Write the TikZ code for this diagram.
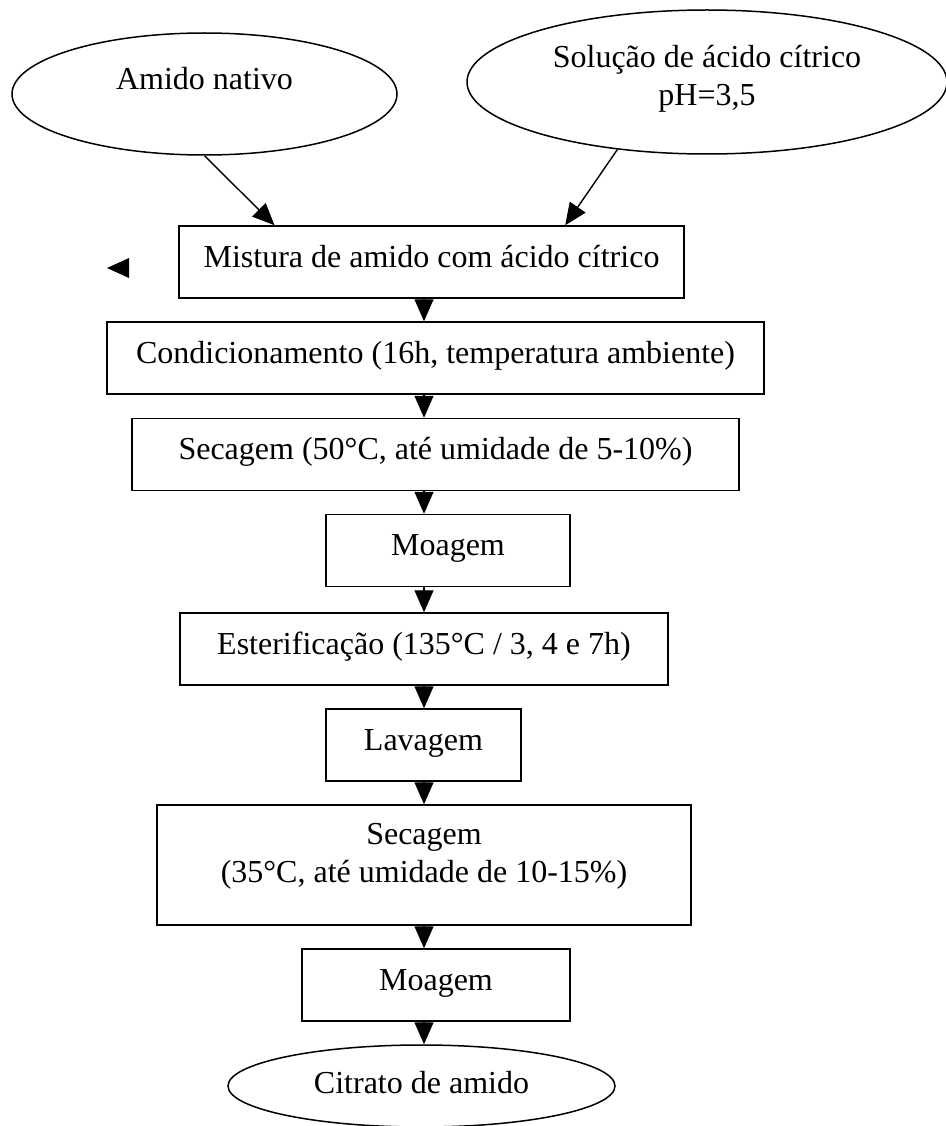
\documentclass[tikz,border=0pt]{standalone}
\usepackage{fontspec}
\setmainfont{Liberation Serif}
\usetikzlibrary{arrows.meta,shapes,calc}

\begin{document}
\begin{tikzpicture}[x=1pt,y=-1pt,>={Triangle[length=22pt,width=19pt]},
    every node/.style={font=\fontsize{32}{38}\selectfont}]

  \tikzstyle{source}=[ellipse,draw,line width=1.5pt,inner sep=0pt,
    text height=24pt]

  \tikzstyle{stage}=[rectangle,draw,line width=1.5pt,inner sep=2pt,
    minimum height=72pt,text height=24pt,text depth=14pt]

  \tikzstyle{flow}=[->,line width=1.4pt]

  \useasboundingbox (0,0) rectangle (945,1126);

  \node  (amido)    at (204.5,94)  [source,minimum width=385pt,minimum height=122pt,
                                    text depth=33pt]  {Amido nativo};
  \node  (solucao)  at (707,82)    [source,minimum width=480pt,minimum height=144pt,
                                    text height=61pt,text depth=13pt,align=center]
         {Solução de ácido cítrico\\pH=3,5};

  \node  (mistura)  at (431.5,262) [stage,minimum width=505pt] {Mistura de amido com ácido cítrico};
  \node  (cond)     at (435.5,358) [stage,minimum width=657pt] {Condicionamento (16h, temperatura ambiente)};
  \node  (secagem)  at (435.5,454.5) [stage,minimum width=607pt] {Secagem (50°C, até umidade de 5-10\%)};
  \node  (moagem)   at (448,550.5) [stage,minimum width=244pt] {Moagem};
  \node  (ester)    at (424,649)   [stage,minimum width=488pt] {Esterificação (135°C / 3, 4 e 7h)};
  \node  (lavagem)  at (423.5,745) [stage,minimum width=195pt] {Lavagem};
  \node  (secfinal) at (424,865)   [stage,minimum width=534pt,minimum height=120pt,
                                    text height=62pt,text depth=28pt,align=center]
         {Secagem\\(35°C, até umidade de 10-15\%)};
  \node  (moafinal) at (436,985)   [stage,minimum width=268pt] {Moagem};

  \node  (citrato)  at (421.5,1086) [source,minimum width=387pt,minimum height=82pt,
                                     text depth=9pt] {Citrato de amido};

  \coordinate (axis) at (424,0);

  \path (amido.south)  edge [flow] ($(mistura.north west)!0.19!(mistura.north east)$)
        (solucao.217)  edge [flow] ($(mistura.north west)!0.764!(mistura.north east)$);

  \path (mistura.south -| axis)  edge [flow] (cond.north -| axis)
        (cond.south -| axis)     edge [flow] (secagem.north -| axis)
        (secagem.south -| axis)  edge [flow] (moagem.north -| axis)
        (moagem.south -| axis)   edge [flow] (ester.north -| axis)
        (ester.south -| axis)    edge [flow] (lavagem.north -| axis)
        (lavagem.south -| axis)  edge [flow] (secfinal.north -| axis)
        (secfinal.south -| axis) edge [flow] (moafinal.north -| axis)
        (moafinal.south -| axis) edge [flow] (citrato.north -| axis);

  %% loose arrow head left of the first box
  \fill (129,258) -- (107,268) -- (129,278) -- cycle;

\end{tikzpicture}
\end{document}
